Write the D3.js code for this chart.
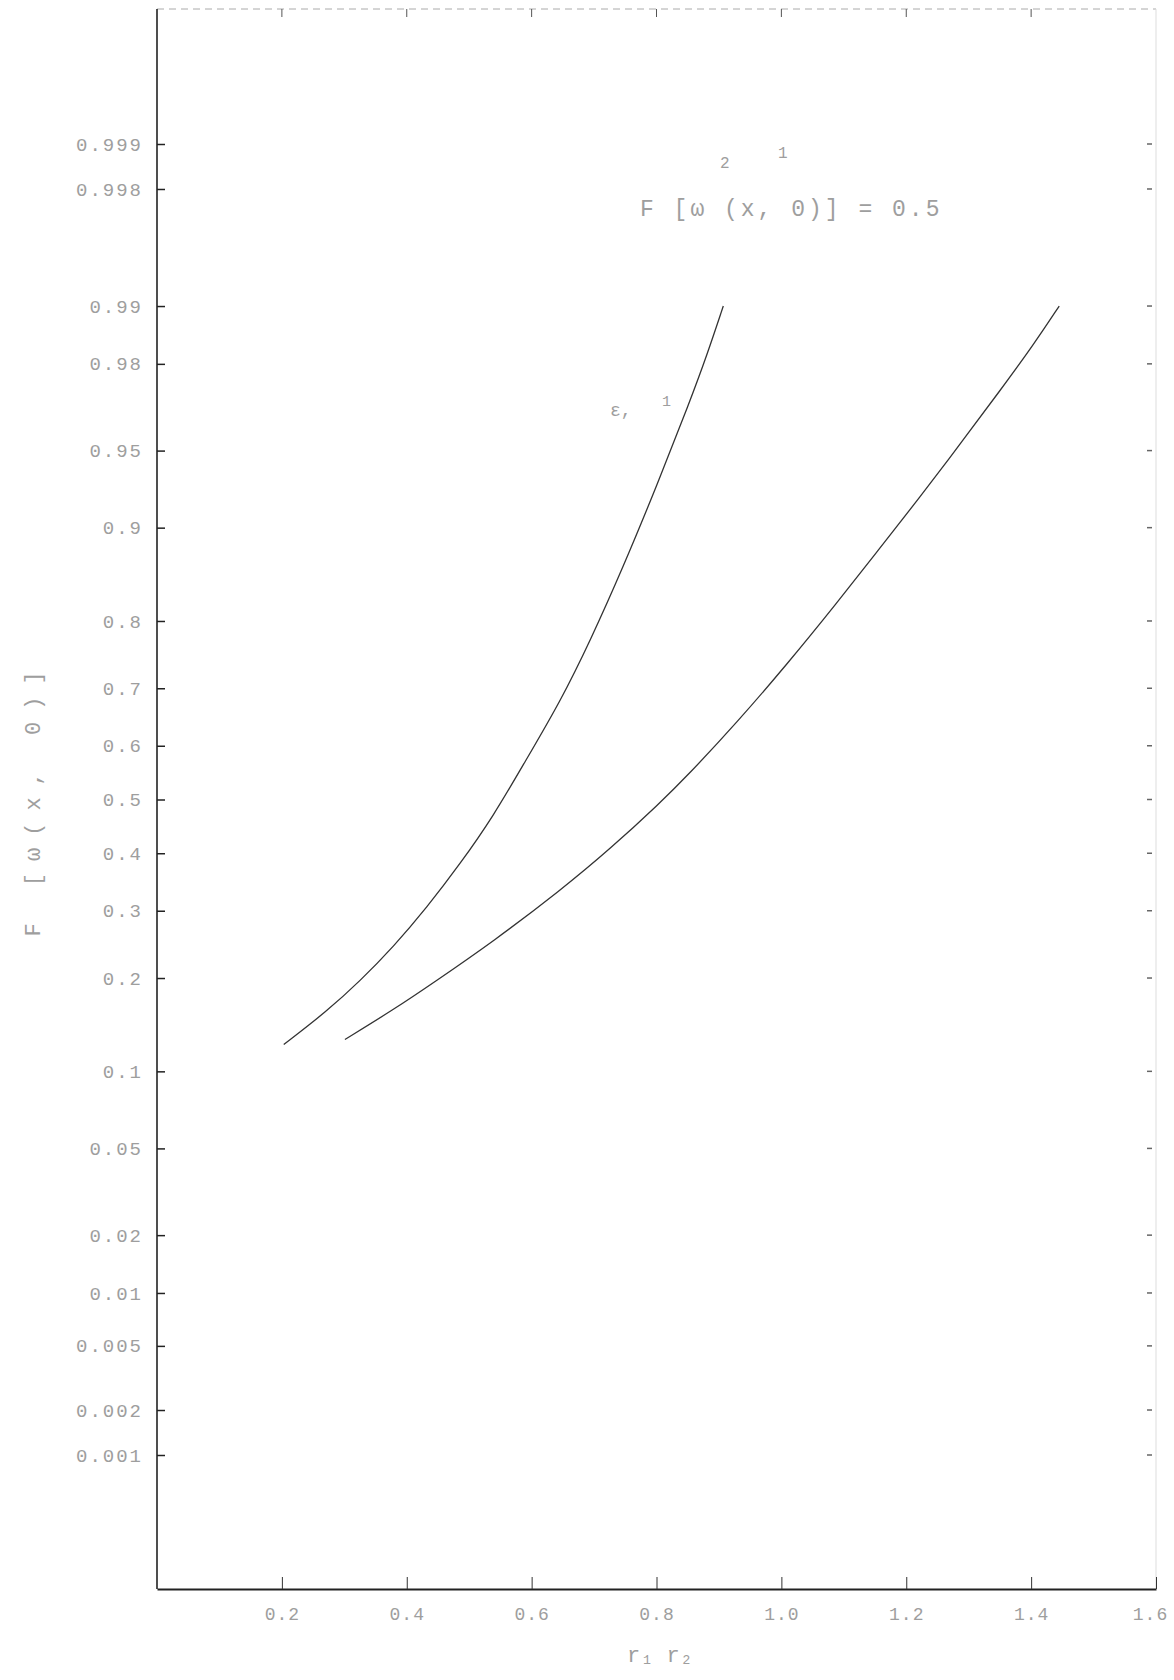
<!DOCTYPE html>
<html>
<head>
<meta charset="utf-8">
<script src="https://cdn.jsdelivr.net/npm/d3@7"></script>
<style>
  body { margin: 0; background: #fff; }
  svg { display: block; }
</style>
</head>
<body>
<div id="chart"></div>
<script>
// probability levels on the left axis (normal probability paper)
var probTicks = [0.001, 0.002, 0.005, 0.01, 0.02, 0.05, 0.1, 0.2, 0.3, 0.4, 0.5,
                 0.6, 0.7, 0.8, 0.9, 0.95, 0.98, 0.99, 0.998, 0.999]
var probLabels = ["0.001", "0.002", "0.005", "0.01", "0.02", "0.05", "0.1", "0.2", "0.3", "0.4", "0.5",
                  "0.6", "0.7", "0.8", "0.9", "0.95", "0.98", "0.99", "0.998", "0.999"]
var xTicks = [0.2, 0.4, 0.6, 0.8, 1.0, 1.2, 1.4, 1.6]
var xLabels = ["0.2", "0.4", "0.6", "0.8", "1.0", "1.2", "1.4", "1.6"]

// curve: left (steeper) one
var leftX = [0.203, 0.272, 0.325, 0.379, 0.432, 0.485, 0.539, 0.589, 0.646, 0.694, 0.747, 0.800, 0.854, 0.881, 0.907]
var leftP = [0.124, 0.159, 0.196, 0.244, 0.305, 0.380, 0.469, 0.570, 0.678, 0.773, 0.864, 0.930, 0.970, 0.982, 0.990]
// right one
var rightX = [0.301, 0.379, 0.443, 0.539, 0.646, 0.726, 0.806, 0.849, 0.929, 1.009, 1.089, 1.155, 1.222, 1.286, 1.350, 1.404, 1.445]
var rightP = [0.129, 0.161, 0.194, 0.252, 0.334, 0.408, 0.494, 0.544, 0.642, 0.738, 0.823, 0.880, 0.923, 0.953, 0.973, 0.984, 0.990]

var width = 1174, height = 1680

// inverse normal cdf (Acklam approximation) for the probit scale
function probit(p) {
  var a = [-39.69683028665376, 220.9460984245205, -275.9285104469687, 138.3577518672690, -30.66479806614716, 2.506628277459239]
  var b = [-54.47609879822406, 161.5858368580409, -155.6989798598866, 66.80131188771972, -13.28068155288572]
  var c = [-0.007784894002430293, -0.3223964580411365, -2.400758277161838, -2.549732539343734, 4.374664141464968, 2.938163982698783]
  var d = [0.007784695709041462, 0.3224671290700398, 2.445134137142996, 3.754408661907416]
  var q, r
  if (p < 0.02425) {
    q = Math.sqrt(-2 * Math.log(p))
    return (((((c[0]*q+c[1])*q+c[2])*q+c[3])*q+c[4])*q+c[5]) / ((((d[0]*q+d[1])*q+d[2])*q+d[3])*q+1)
  } else if (p > 1 - 0.02425) {
    q = Math.sqrt(-2 * Math.log(1 - p))
    return -(((((c[0]*q+c[1])*q+c[2])*q+c[3])*q+c[4])*q+c[5]) / ((((d[0]*q+d[1])*q+d[2])*q+d[3])*q+1)
  }
  q = p - 0.5
  r = q * q
  return (((((a[0]*r+a[1])*r+a[2])*r+a[3])*r+a[4])*r+a[5])*q / (((((b[0]*r+b[1])*r+b[2])*r+b[3])*r+b[4])*r+1)
}

var svg = d3.select("#chart")
  .append("svg")
    .attr("width", width)
    .attr("height", height)
    .style("font-family", "'Liberation Mono', 'DejaVu Sans Mono', monospace")

var x = d3.scaleLinear().domain([0, 1.6]).range([157, 1156])
var y = d3.scaleLinear().domain([probit(0.001), probit(0.999)]).range([1455, 144])

var frameTop = 9, frameBottom = 1589
var faint = "#9e9e9e"

// frame: top and right edges are faint in the scan
svg.append("line")
  .attr("x1", 157).attr("x2", 1156).attr("y1", frameTop).attr("y2", frameTop)
  .attr("stroke", "#aaa").attr("stroke-width", 1).attr("stroke-dasharray", "7,5")
svg.append("line")
  .attr("x1", 1156).attr("x2", 1156).attr("y1", frameTop).attr("y2", frameBottom)
  .attr("stroke", "#ddd").attr("stroke-width", 1)

// top ticks
svg.selectAll("topTicks")
  .data(xTicks.slice(0, -1))
  .enter()
  .append("line")
    .attr("x1", function(d) { return x(d) }).attr("x2", function(d) { return x(d) })
    .attr("y1", frameTop).attr("y2", frameTop + 8)
    .attr("stroke", "#555")

// right ticks
svg.selectAll("rightTicks")
  .data(probTicks)
  .enter()
  .append("line")
    .attr("x1", 1147).attr("x2", 1152)
    .attr("y1", function(d) { return y(probit(d)) }).attr("y2", function(d) { return y(probit(d)) })
    .attr("stroke", "#666").attr("stroke-width", 1.5)

// left axis (ticks pointing inward)
var yAxis = d3.axisLeft(y)
  .tickValues(probTicks.map(probit))
  .tickFormat(function(d, i) { return probLabels[i] })
  .tickSizeInner(-8)
  .tickSizeOuter(0)
  .tickPadding(14)

var gy = svg.append("g")
  .attr("transform", "translate(157,0)")
  .call(yAxis)
gy.select(".domain").remove()
gy.selectAll("text")
  .attr("fill", faint)
  .style("font-family", "'Liberation Mono', monospace")
  .style("font-size", "19px")
  .style("letter-spacing", "2px")
gy.selectAll("line").attr("stroke", "#222").attr("stroke-width", 1.5)
svg.append("line")
  .attr("x1", 157).attr("x2", 157).attr("y1", frameTop).attr("y2", frameBottom)
  .attr("stroke", "#222").attr("stroke-width", 1.6)

// bottom axis
var xAxis = d3.axisBottom(x)
  .tickValues(xTicks)
  .tickFormat(function(d, i) { return xLabels[i] })
  .tickSizeInner(-12)
  .tickSizeOuter(0)
  .tickPadding(18)

var gx = svg.append("g")
  .attr("transform", "translate(0," + frameBottom + ")")
  .call(xAxis)
gx.select(".domain").attr("stroke", "#222").attr("stroke-width", 2)
gx.selectAll("text")
  .attr("fill", faint)
  .style("font-family", "'Liberation Mono', monospace")
  .style("font-size", "18px")
  .style("letter-spacing", "1px")
// last label sits at the page edge; pull it in a little
gx.selectAll(".tick:last-of-type text").attr("dx", "-6")
gx.selectAll("line").attr("stroke", "#333")

// curves
var line = d3.line()
  .x(function(d) { return x(d[0]) })
  .y(function(d) { return y(probit(d[1])) })
  .curve(d3.curveBasis)

svg.append("path")
  .datum(d3.zip(leftX, leftP))
  .attr("d", line)
  .attr("fill", "none").attr("stroke", "#333").attr("stroke-width", 1.3)

svg.append("path")
  .datum(d3.zip(rightX, rightP))
  .attr("d", line)
  .attr("fill", "none").attr("stroke", "#333").attr("stroke-width", 1.3)

// annotation
svg.append("text")
  .attr("x", 640).attr("y", 216)
  .attr("fill", faint)
  .style("font-size", "23px")
  .style("letter-spacing", "3px")
  .text("F [ω  (x, 0)] = 0.5")
svg.append("text")
  .attr("x", 720).attr("y", 168)
  .attr("fill", faint).style("font-size", "16px")
  .text("2")
svg.append("text")
  .attr("x", 778).attr("y", 158)
  .attr("fill", faint).style("font-size", "16px")
  .text("1")

svg.append("text")
  .attr("x", 610).attr("y", 416)
  .attr("fill", faint).style("font-size", "18px")
  .text("ε,")
svg.append("text")
  .attr("x", 662).attr("y", 406)
  .attr("fill", faint).style("font-size", "15px")
  .text("1")

// axis titles
svg.append("text")
  .attr("transform", "translate(40,798) rotate(-90)")
  .style("text-anchor", "middle")
  .attr("fill", faint)
  .style("font-size", "22px")
  .style("letter-spacing", "12px")
  .text("F [ω(x, 0)]")

svg.append("text")
  .attr("x", 660).attr("y", 1662)
  .style("text-anchor", "middle")
  .attr("fill", faint)
  .style("font-size", "22px")
  .text("r₁   r₂")
</script>
</body>
</html>
